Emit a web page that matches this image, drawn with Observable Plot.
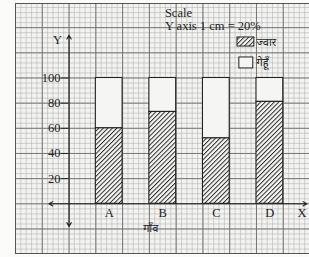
<!DOCTYPE html>
<html>
<head>
<meta charset="utf-8">
<script src="https://cdn.jsdelivr.net/npm/d3@7"></script>
<script src="https://cdn.jsdelivr.net/npm/@observablehq/plot@0.6"></script>
<style>
  html, body { margin: 0; padding: 0; background: #fbfbfa; }
</style>
</head>
<body>
<div id="chart"></div>
<script>
const villages = ["A", "B", "C", "D"];
const jowar = [60, 73, 52, 81];
const wheat = [40, 27, 48, 19];
const yTicks = [20, 40, 60, 80, 100];
const seriesNames = ["ज्वार", "गेहूँ"];
const xTitle = "गाँव";
const scaleNote = ["Scale", "Y axis 1 cm = 20%"];

const bars = villages.map((v, i) => ({
  v, x1: 1 + 2 * i, x2: 2 + 2 * i, xc: 1.5 + 2 * i, j: jowar[i], top: jowar[i] + wheat[i]
}));

const serif = "Liberation Serif, Times New Roman, serif";
const deva = "Noto Sans, Noto Sans Devanagari, Lohit Devanagari, sans-serif";

const chart = Plot.plot({
  width: 309,
  height: 257,
  marginLeft: 15,
  marginRight: 0,
  marginTop: 3,
  marginBottom: 4,
  x: { domain: [-2, 8.98], axis: null },
  y: { domain: [-39.5, 159.2], axis: null },
  style: { background: "#fbfbfa", fontFamily: serif },
  marks: [
    Plot.frame({ fill: "#f3f3f1" }),
    Plot.ruleX(d3.range(-2, 9, 0.2), { stroke: "#b5b5b5", strokeWidth: 0.6 }),
    Plot.ruleY(d3.range(-36, 160, 4), { stroke: "#b5b5b5", strokeWidth: 0.6 }),
    Plot.ruleX(d3.range(-2, 9, 1), { stroke: "#777", strokeWidth: 1 }),
    Plot.ruleY(d3.range(-20, 160, 20), { stroke: "#777", strokeWidth: 1 }),
    Plot.frame({ stroke: "#555", strokeWidth: 1, anchor: "left" }),
    Plot.frame({ stroke: "#555", strokeWidth: 1, anchor: "top" }),
    Plot.frame({ stroke: "#555", strokeWidth: 1, anchor: "bottom" }),
    // wheat (white) part
    Plot.rect(bars, { x1: "x1", x2: "x2", y1: "j", y2: "top", fill: "#f5f5f3", stroke: "#222", strokeWidth: 1.1 }),
    // jowar (hatched) part
    Plot.rect(bars, { x1: "x1", x2: "x2", y1: 0, y2: "j", fill: "#f5f5f3" }),
    Plot.rect(bars, { x1: "x1", x2: "x2", y1: 0, y2: "j", fill: "url(#hatch)", stroke: "#222", strokeWidth: 1.1 }),
    // axes with arrows
    Plot.arrow([{ a: 0, b: 0, c: 0, d: 134 }, { a: 0, b: 0, c: 0, d: -18 }, { a: 0, b: 0, c: -0.75, d: 0 }, { a: 0, b: 0, c: 8.88, d: 0 }],
      { x1: "a", y1: "b", x2: "c", y2: "d", stroke: "#222", strokeWidth: 1.1, headLength: 6 }),
    Plot.ruleY(yTicks, { x1: -0.29, x2: 0, stroke: "#222", strokeWidth: 1 }),
    Plot.text(yTicks, { x: -0.32, y: d => d, text: d => String(d), textAnchor: "end", fontSize: 12.5, fill: "#222" }),
    Plot.text(bars, { x: "xc", y: -7.7, text: "v", fontSize: 12.5, fill: "#222" }),
    Plot.text(["X"], { x: 8.7, y: -7.7, text: d => d, fontSize: 12.5, fill: "#222" }),
    Plot.text(["Y"], { x: -0.43, y: 130.5, text: d => d, fontSize: 12.5, fill: "#222" }),
    Plot.text([xTitle], { x: 3.05, y: -19.6, text: d => d, fontSize: 11, fill: "#222", fontFamily: deva }),
    Plot.text([scaleNote[0]], { x: 3.58, y: 151.3, text: d => d, textAnchor: "start", fontSize: 12.5, fill: "#222" }),
    Plot.text([scaleNote[1]], { x: 3.58, y: 141.2, text: d => d, textAnchor: "start", fontSize: 12.5, fill: "#222" }),
    // legend
    Plot.rect([0], { x1: 6.29, x2: 6.92, y1: 125, y2: 132.2, fill: "#f5f5f3" }),
    Plot.rect([0], { x1: 6.29, x2: 6.92, y1: 125, y2: 132.2, fill: "url(#hatch)", stroke: "#222", strokeWidth: 1 }),
    Plot.rect([0], { x1: 6.36, x2: 6.88, y1: 107.6, y2: 116.3, fill: "#f5f5f3", stroke: "#222", strokeWidth: 1 }),
    Plot.text([seriesNames[0]], { x: 7.0, y: 128.4, text: d => d, textAnchor: "start", fontSize: 11, fill: "#222", fontFamily: deva }),
    Plot.text([seriesNames[1]], { x: 7.0, y: 112.2, text: d => d, textAnchor: "start", fontSize: 11, fill: "#222", fontFamily: deva })
  ]
});

const svg = d3.select(chart.tagName.toLowerCase() === "svg" ? chart : chart.querySelector("svg"));
const defs = svg.insert("defs", ":first-child");
const pat = defs.append("pattern")
  .attr("id", "hatch")
  .attr("patternUnits", "userSpaceOnUse")
  .attr("width", 3.2)
  .attr("height", 3.2)
  .attr("patternTransform", "rotate(45)");
pat.append("line").attr("x1", 0.5).attr("y1", 0).attr("x2", 0.5).attr("y2", 3.2)
  .attr("stroke", "#222").attr("stroke-width", 0.95);

document.getElementById("chart").appendChild(chart);
</script>
</body>
</html>
